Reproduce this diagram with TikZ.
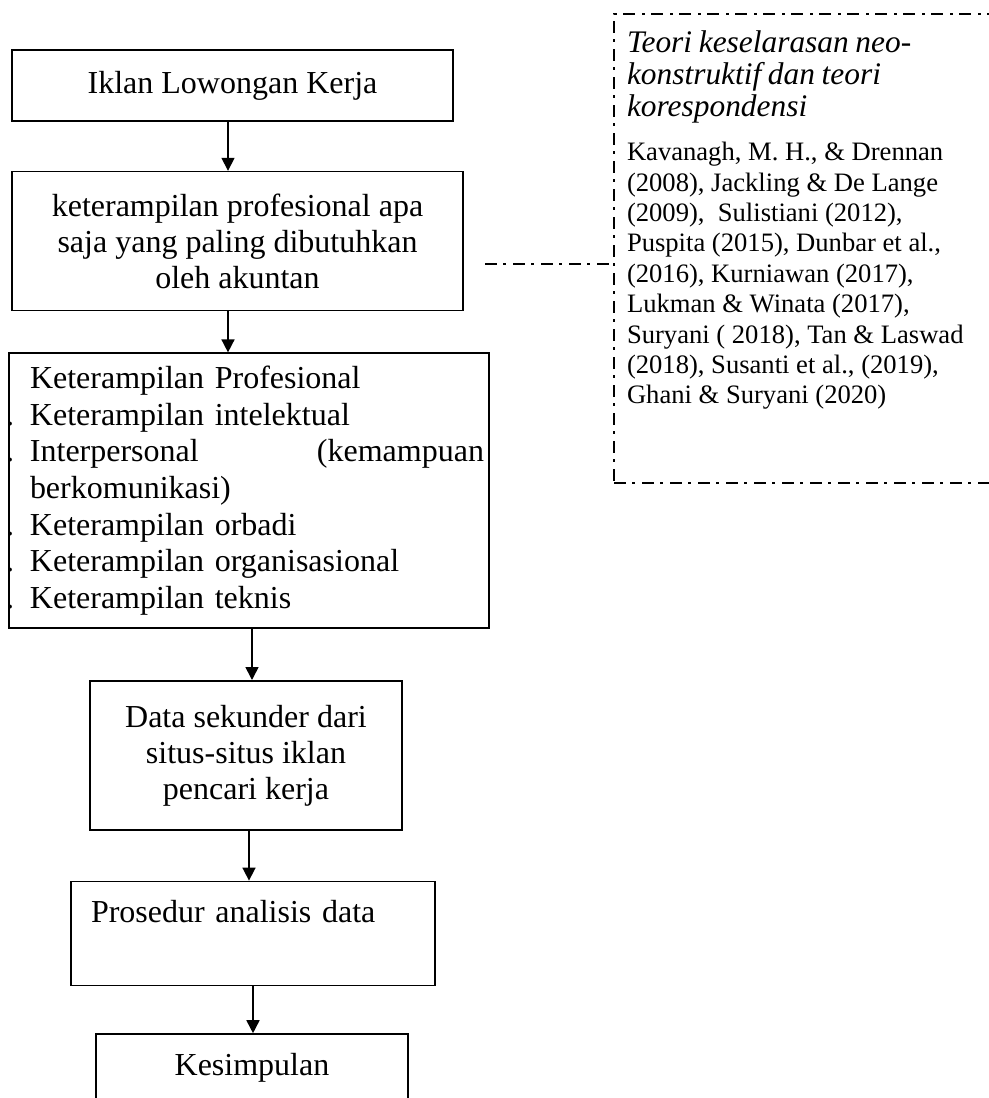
\documentclass[tikz,border=0pt]{standalone}
\usepackage{fontspec}
\setmainfont{Liberation Serif}
\usepackage{tikz}
\usetikzlibrary{positioning,arrows.meta}
\newcommand{\itemdot}{\leavevmode\llap{.\hspace{8pt}}}

\begin{document}
\frenchspacing
\begin{tikzpicture}[x=0.5pt,y=-0.5pt,
	box/.style={draw, line width=0.8pt, inner sep=0pt, align=center,
		font=\fontsize{16pt}{18pt}\selectfont},
	arr/.style={line width=0.8pt, -{Triangle[width=6.5pt,length=6.5pt]}},
	dashdot/.style={line width=1pt, dash pattern=on 6pt off 3pt on 1.5pt off 3.5pt}]
	\useasboundingbox (0,0) rectangle (989,1098);
	% Define nodes
	\node[box, minimum width=220.5pt, minimum height=35.5pt] (iklan) at (232.5,85.5) {Iklan Lowongan Kerja};
	\node[box, minimum width=225.5pt, minimum height=69.5pt, below=24.5pt of iklan, xshift=2.5pt] (butuh)
		{keterampilan profesional apa\\ saja yang paling dibutuhkan\\ oleh akuntan};
	\node[box, minimum width=240pt, minimum height=137.5pt, text width=219pt, align=left,
		font=\fontsize{16pt}{18.3pt}\selectfont, below=20.5pt of butuh, xshift=5.75pt] (skill)
		{Keterampilan Profesional\\
		\itemdot Keterampilan intelektual\\
		\itemdot\makebox[227pt][l]{Interpersonal\hfill(kemampuan}\\
		berkomunikasi)\\
		\itemdot Keterampilan orbadi\\
		\itemdot Keterampilan organisasional\\
		\itemdot Keterampilan teknis};
	\node[box, minimum width=156pt, minimum height=74.5pt, below=25.5pt of skill, xshift=-1.5pt] (data)
		{Data sekunder dari\\ situs-situs iklan\\ pencari kerja};
	\node[box, text width=162pt, inner xsep=10pt, inner ysep=9.4pt, text depth=22.1pt, align=left,
		below=25pt of data, xshift=3.5pt] (prosedur) {Prosedur analisis data};
	\node[box, minimum width=156pt, inner ysep=9.6pt, text depth=40pt,
		below=23.5pt of prosedur, xshift=-0.5pt] (simpul) {Kesimpulan};
	% Theory box
	\node[draw, dashdot, anchor=north west, text width=197pt, inner xsep=6.5pt, inner ysep=8.3pt,
		text depth=207pt, align=left] (teori) at (613,13)
		{{\fontsize{15.7pt}{16pt}\selectfont\itshape Teori keselarasan neo-\\ konstruktif dan teori\\ korespondensi\par}
		\vspace{7pt}
		{\fontsize{13.3pt}{15.2pt}\selectfont Kavanagh, M. H., \& Drennan\\
		(2008), Jackling \& De Lange\\
		(2009),\ \ Sulistiani (2012),\\
		Puspita (2015), Dunbar et al.,\\
		(2016), Kurniawan (2017),\\
		Lukman \& Winata (2017),\\
		Suryani ( 2018), Tan \& Laswad\\
		(2018), Susanti et al., (2019),\\
		Ghani \& Suryani (2020)\par}};
	\coordinate (link) at (485,264);
	% Edges
	\draw[arr] ([xshift=-2.25pt]iklan.south) -- ([xshift=-2.25pt]iklan.south |- butuh.north);
	\draw[arr] ([xshift=-4.75pt]butuh.south) -- ([xshift=-4.75pt]butuh.south |- skill.north);
	\draw[arr] ([xshift=1.5pt]skill.south) -- ([xshift=1.5pt]skill.south |- data.north);
	\draw[arr] ([xshift=1.5pt]data.south) -- ([xshift=1.5pt]data.south |- prosedur.north);
	\draw[arr] (prosedur.south) -- (prosedur.south |- simpul.north);
	\draw[dashdot] (link) -- (link -| teori.west);
\end{tikzpicture}
\end{document}
